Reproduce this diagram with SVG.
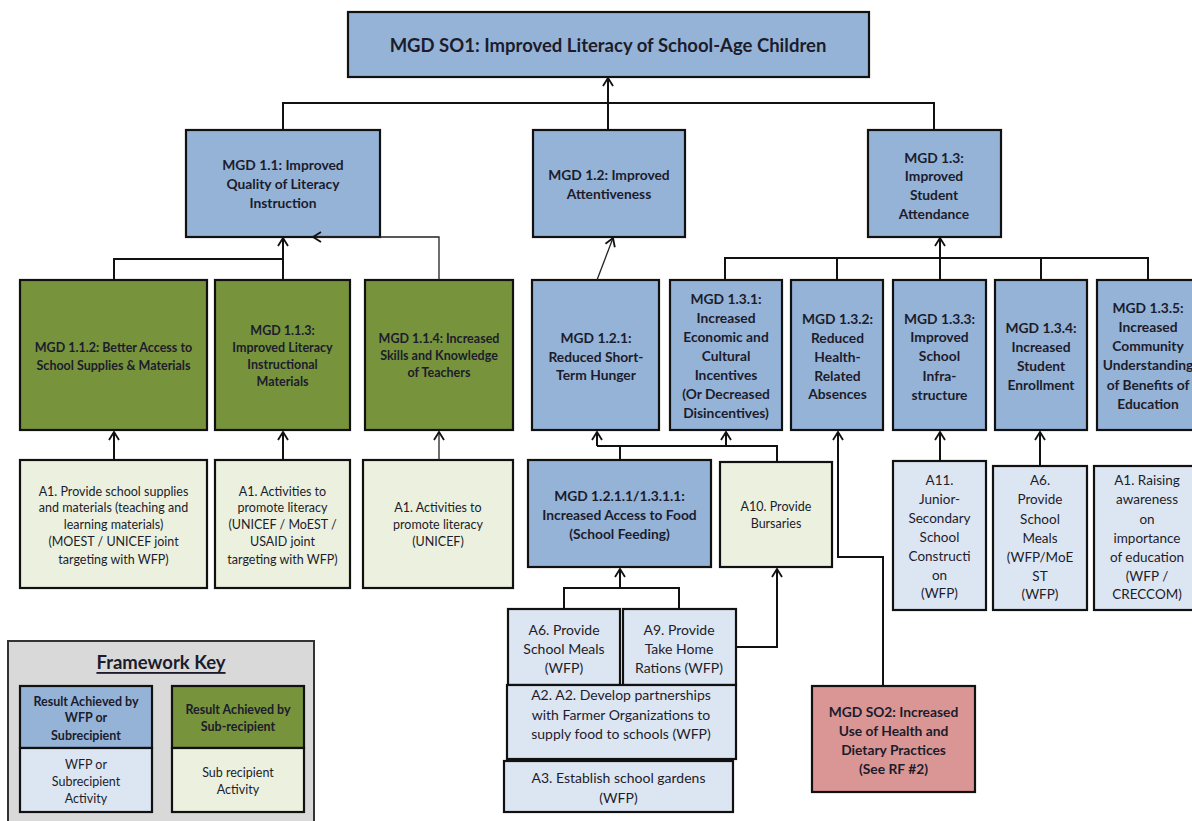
<svg xmlns="http://www.w3.org/2000/svg" width="1192" height="821" viewBox="0 0 1192 821">
  <style>
    text { font-family: Lato, "Liberation Sans", sans-serif; fill: #1c1c2c; text-anchor: middle; dominant-baseline: central; }
    .box { stroke: #111; stroke-width: 2.2; }
    .res { fill: #95b3d7; }
    .sub { fill: #77933c; }
    .act { fill: #dce6f2; }
    .sact { fill: #ebf1de; }
    .so2 { fill: #da9694; }
    .b13 { font-size: 13.8px; font-weight: bold; }
    .b12 { font-size: 12.5px; font-weight: bold; }
    .r12 { font-size: 12.5px; }
    .r13 { font-size: 14px; }
    .r14 { font-size: 13.5px; }
    .title { font-size: 18.5px; font-weight: bold; }
    .wire { fill: none; stroke: #111; stroke-width: 2; }
    .thin { fill: none; stroke: #222; stroke-width: 1.3; }
  </style>
  <defs>
    <marker id="arrow" markerUnits="userSpaceOnUse" markerWidth="12" markerHeight="12" refX="8" refY="5" orient="auto" overflow="visible">
      <path d="M0,0 L8,5 L0,10" fill="none" stroke="#111" stroke-width="1.8"/>
    </marker>
  </defs>

  <rect width="1192" height="821" fill="#ffffff"/>

  <!-- strategic objective -->
  <g id="so1">
    <rect class="box res" x="348" y="12" width="521" height="65"/>
    <text class="title" x="608" y="45">MGD SO1: Improved Literacy of School-Age Children</text>
  </g>

  <!-- level 1 results -->
  <g id="mgd-1-1">
    <rect class="box res" x="186" y="130" width="194" height="107"/>
    <text class="b13" x="283" y="164">MGD 1.1: Improved</text>
    <text class="b13" x="283" y="183">Quality of Literacy</text>
    <text class="b13" x="283" y="202">Instruction</text>
  </g>
  <g id="mgd-1-2">
    <rect class="box res" x="533" y="130" width="152" height="107"/>
    <text class="b13" x="609" y="174">MGD 1.2: Improved</text>
    <text class="b13" x="609" y="193">Attentiveness</text>
  </g>
  <g id="mgd-1-3">
    <rect class="box res" x="868" y="130" width="133" height="107"/>
    <text class="b13" x="934" y="157">MGD 1.3:</text>
    <text class="b13" x="934" y="175">Improved</text>
    <text class="b13" x="934" y="194">Student</text>
    <text class="b13" x="934" y="213">Attendance</text>
  </g>

  <!-- level 2 results -->
  <g id="mgd-1-1-2">
    <rect class="box sub" x="20" y="280" width="187" height="150"/>
    <text class="b12" x="113.5" y="347">MGD 1.1.2: Better Access to</text>
    <text class="b12" x="113.5" y="365">School Supplies &amp; Materials</text>
  </g>
  <g id="mgd-1-1-3">
    <rect class="box sub" x="215" y="280" width="135" height="150"/>
    <text class="b12" x="282.5" y="330">MGD 1.1.3:</text>
    <text class="b12" x="282.5" y="347">Improved Literacy</text>
    <text class="b12" x="282.5" y="364">Instructional</text>
    <text class="b12" x="282.5" y="381">Materials</text>
  </g>
  <g id="mgd-1-1-4">
    <rect class="box sub" x="365" y="280" width="148" height="150"/>
    <text class="b12" x="439" y="338">MGD 1.1.4: Increased</text>
    <text class="b12" x="439" y="355">Skills and Knowledge</text>
    <text class="b12" x="439" y="372">of Teachers</text>
  </g>
  <g id="mgd-1-2-1">
    <rect class="box res" x="532" y="280" width="127" height="150"/>
    <text class="b13" x="596" y="337">MGD 1.2.1:</text>
    <text class="b13" x="596" y="356">Reduced Short-</text>
    <text class="b13" x="596" y="374">Term Hunger</text>
  </g>
  <g id="mgd-1-3-1">
    <rect class="box res" x="670" y="280" width="112" height="150"/>
    <text class="b13" x="726" y="298">MGD 1.3.1:</text>
    <text class="b13" x="726" y="317">Increased</text>
    <text class="b13" x="726" y="336">Economic and</text>
    <text class="b13" x="726" y="355">Cultural</text>
    <text class="b13" x="726" y="374">Incentives</text>
    <text class="b13" x="726" y="393">(Or Decreased</text>
    <text class="b13" x="726" y="412">Disincentives)</text>
  </g>
  <g id="mgd-1-3-2">
    <rect class="box res" x="791" y="280" width="92" height="150"/>
    <text class="b13" x="837.5" y="318">MGD 1.3.2:</text>
    <text class="b13" x="837.5" y="337">Reduced</text>
    <text class="b13" x="837.5" y="356">Health-</text>
    <text class="b13" x="837.5" y="375">Related</text>
    <text class="b13" x="837.5" y="393">Absences</text>
  </g>
  <g id="mgd-1-3-3">
    <rect class="box res" x="893" y="280" width="93" height="150"/>
    <text class="b13" x="939.5" y="318">MGD 1.3.3:</text>
    <text class="b13" x="939.5" y="336">Improved</text>
    <text class="b13" x="939.5" y="355">School</text>
    <text class="b13" x="939.5" y="375">Infra-</text>
    <text class="b13" x="939.5" y="394">structure</text>
  </g>
  <g id="mgd-1-3-4">
    <rect class="box res" x="995" y="280" width="92" height="150"/>
    <text class="b13" x="1041" y="327">MGD 1.3.4:</text>
    <text class="b13" x="1041" y="346">Increased</text>
    <text class="b13" x="1041" y="365">Student</text>
    <text class="b13" x="1041" y="384">Enrollment</text>
  </g>
  <g id="mgd-1-3-5">
    <rect class="box res" x="1097" y="280" width="110" height="150"/>
    <text class="b13" x="1148" y="307">MGD 1.3.5:</text>
    <text class="b13" x="1148" y="326">Increased</text>
    <text class="b13" x="1148" y="345">Community</text>
    <text class="b13" x="1148" y="364">Understanding</text>
    <text class="b13" x="1148" y="384">of Benefits of</text>
    <text class="b13" x="1148" y="403">Education</text>
  </g>

  <!-- activities and lower results -->
  <g id="act-supplies">
    <rect class="box sact" x="20" y="460" width="187" height="128"/>
    <text class="r12" x="113.5" y="491">A1. Provide school supplies</text>
    <text class="r12" x="113.5" y="507">and materials (teaching and</text>
    <text class="r12" x="113.5" y="524">learning materials)</text>
    <text class="r12" x="113.5" y="541">(MOEST / UNICEF joint</text>
    <text class="r12" x="113.5" y="559">targeting with WFP)</text>
  </g>
  <g id="act-literacy-joint">
    <rect class="box sact" x="215" y="460" width="135" height="128"/>
    <text class="r12" x="282.5" y="491">A1. Activities to</text>
    <text class="r12" x="282.5" y="507">promote literacy</text>
    <text class="r12" x="282.5" y="524">(UNICEF / MoEST /</text>
    <text class="r12" x="282.5" y="541">USAID joint</text>
    <text class="r12" x="282.5" y="559">targeting with WFP)</text>
  </g>
  <g id="act-literacy-unicef">
    <rect class="box sact" x="363" y="460" width="150" height="128"/>
    <text class="r12" x="438" y="507">A1. Activities to</text>
    <text class="r12" x="438" y="524">promote literacy</text>
    <text class="r12" x="438" y="541">(UNICEF)</text>
  </g>
  <g id="mgd-1-2-1-1">
    <rect class="box res" x="528" y="460" width="183" height="107"/>
    <text class="b13" x="619.5" y="495">MGD 1.2.1.1/1.3.1.1:</text>
    <text class="b13" x="619.5" y="514">Increased Access to Food</text>
    <text class="b13" x="619.5" y="533">(School Feeding)</text>
  </g>
  <g id="act-bursaries">
    <rect class="box sact" x="720" y="462" width="112" height="105"/>
    <text class="r12" x="776" y="506">A10. Provide</text>
    <text class="r12" x="776" y="523">Bursaries</text>
  </g>
  <g id="act-construction">
    <rect class="box act" x="893" y="461" width="93" height="149"/>
    <text class="r14" x="939.5" y="480">A11.</text>
    <text class="r14" x="939.5" y="499">Junior-</text>
    <text class="r14" x="939.5" y="518">Secondary</text>
    <text class="r14" x="939.5" y="537">School</text>
    <text class="r14" x="939.5" y="556">Constructi</text>
    <text class="r14" x="939.5" y="575">on</text>
    <text class="r14" x="939.5" y="593">(WFP)</text>
  </g>
  <g id="act-meals-moest">
    <rect class="box act" x="993" y="466" width="94" height="144"/>
    <text class="r14" x="1040" y="480">A6.</text>
    <text class="r14" x="1040" y="499">Provide</text>
    <text class="r14" x="1040" y="519">School</text>
    <text class="r14" x="1040" y="538">Meals</text>
    <text class="r14" x="1040" y="557">(WFP/MoE</text>
    <text class="r14" x="1040" y="576">ST</text>
    <text class="r14" x="1040" y="594">(WFP)</text>
  </g>
  <g id="act-awareness">
    <rect class="box act" x="1094" y="466" width="110" height="144"/>
    <text class="r14" x="1147" y="480">A1. Raising</text>
    <text class="r14" x="1147" y="499">awareness</text>
    <text class="r14" x="1147" y="519">on</text>
    <text class="r14" x="1147" y="538">importance</text>
    <text class="r14" x="1147" y="557">of education</text>
    <text class="r14" x="1147" y="576">(WFP /</text>
    <text class="r14" x="1147" y="594">CRECCOM)</text>
  </g>
  <g id="act-meals">
    <rect class="box act" x="508" y="609" width="112" height="76"/>
    <text class="r13" x="564" y="629">A6. Provide</text>
    <text class="r13" x="564" y="648">School Meals</text>
    <text class="r13" x="564" y="667">(WFP)</text>
  </g>
  <g id="act-rations">
    <rect class="box act" x="623" y="609" width="113" height="76"/>
    <text class="r13" x="679" y="629">A9. Provide</text>
    <text class="r13" x="679" y="648">Take Home</text>
    <text class="r13" x="679" y="667">Rations (WFP)</text>
  </g>
  <g id="act-partnerships">
    <rect class="box act" x="507" y="685" width="229" height="74"/>
    <text class="r13" x="621" y="694">A2. A2. Develop partnerships</text>
    <text class="r13" x="621" y="714">with Farmer Organizations to</text>
    <text class="r13" x="621" y="733">supply food to schools  (WFP)</text>
  </g>
  <g id="act-gardens">
    <rect class="box act" x="504" y="761" width="229" height="51"/>
    <text class="r13" x="618.5" y="777">A3. Establish school gardens</text>
    <text class="r13" x="618.5" y="797">(WFP)</text>
  </g>
  <g id="so2">
    <rect class="box so2" x="812" y="686" width="163" height="106"/>
    <text class="b13" x="893.5" y="711">MGD SO2: Increased</text>
    <text class="b13" x="893.5" y="730">Use of Health and</text>
    <text class="b13" x="893.5" y="749">Dietary Practices</text>
    <text class="b13" x="893.5" y="768">(See RF #2)</text>
  </g>

  <!-- legend -->
  <g id="framework-key">
    <rect x="8" y="641" width="306" height="200" fill="#d9d9d9" stroke="#333" stroke-width="2"/>
    <text class="title" x="161" y="662" text-decoration="underline">Framework Key</text>
    <rect class="box res" x="20" y="686" width="132" height="62"/>
    <text class="b12" x="86" y="701">Result Achieved by</text>
    <text class="b12" x="86" y="717">WFP or</text>
    <text class="b12" x="86" y="735">Subrecipient</text>
    <rect class="box act" x="20" y="748" width="132" height="64"/>
    <text class="r12" x="86" y="764">WFP or</text>
    <text class="r12" x="86" y="781">Subrecipient</text>
    <text class="r12" x="86" y="798">Activity</text>
    <rect class="box sub" x="172" y="686" width="132" height="62"/>
    <text class="b12" x="238" y="709">Result Achieved by</text>
    <text class="b12" x="238" y="726">Sub-recipient</text>
    <rect class="box sact" x="172" y="748" width="132" height="64"/>
    <text class="r12" x="238" y="772">Sub recipient</text>
    <text class="r12" x="238" y="789">Activity</text>
  </g>

  <!-- connectors, drawn last so arrowheads sit on top of box edges -->
  <g id="connectors">
    <!-- level 1 to strategic objective -->
    <path class="wire" d="M283,130 V103 H934 V130"/>
    <path class="wire" d="M608,130 V78" marker-end="url(#arrow)"/>
    <!-- MGD 1.1 sub-results -->
    <path class="wire" d="M114,280 V259 H283"/>
    <path class="wire" d="M283,280 V238" marker-end="url(#arrow)"/>
    <path class="thin" d="M439,280 V237 H313" marker-end="url(#arrow)"/>
    <!-- MGD 1.2 -->
    <path class="thin" d="M597,280 L613,238" marker-end="url(#arrow)"/>
    <!-- MGD 1.3 sub-results -->
    <path class="wire" d="M725,280 V258 H1148 V280"/>
    <path class="wire" d="M837,258 V280"/>
    <path class="wire" d="M1041,258 V280"/>
    <path class="wire" d="M940,280 V238" marker-end="url(#arrow)"/>
    <!-- activities under MGD 1.1 -->
    <path class="wire" d="M114,460 V432" marker-end="url(#arrow)"/>
    <path class="wire" d="M283,460 V432" marker-end="url(#arrow)"/>
    <path class="thin" d="M439,460 V432" marker-end="url(#arrow)"/>
    <!-- school feeding and bursaries -->
    <path class="wire" d="M620,460 V446"/>
    <path class="wire" d="M597,446 H777 V462"/>
    <path class="wire" d="M597,446 V432" marker-end="url(#arrow)"/>
    <path class="wire" d="M726,446 V432" marker-end="url(#arrow)"/>
    <!-- SO2 to health-related absences -->
    <path class="wire" d="M883,686 V557 H838 V432" marker-end="url(#arrow)"/>
    <!-- meals and rations -->
    <path class="wire" d="M564,609 V588 H679 V609"/>
    <path class="wire" d="M620,588 V569" marker-end="url(#arrow)"/>
    <path class="wire" d="M736,647 H777 V569" marker-end="url(#arrow)"/>
    <!-- activities under MGD 1.3 -->
    <path class="wire" d="M940,461 V432" marker-end="url(#arrow)"/>
    <path class="wire" d="M1040,466 V432" marker-end="url(#arrow)"/>
  </g>
</svg>
